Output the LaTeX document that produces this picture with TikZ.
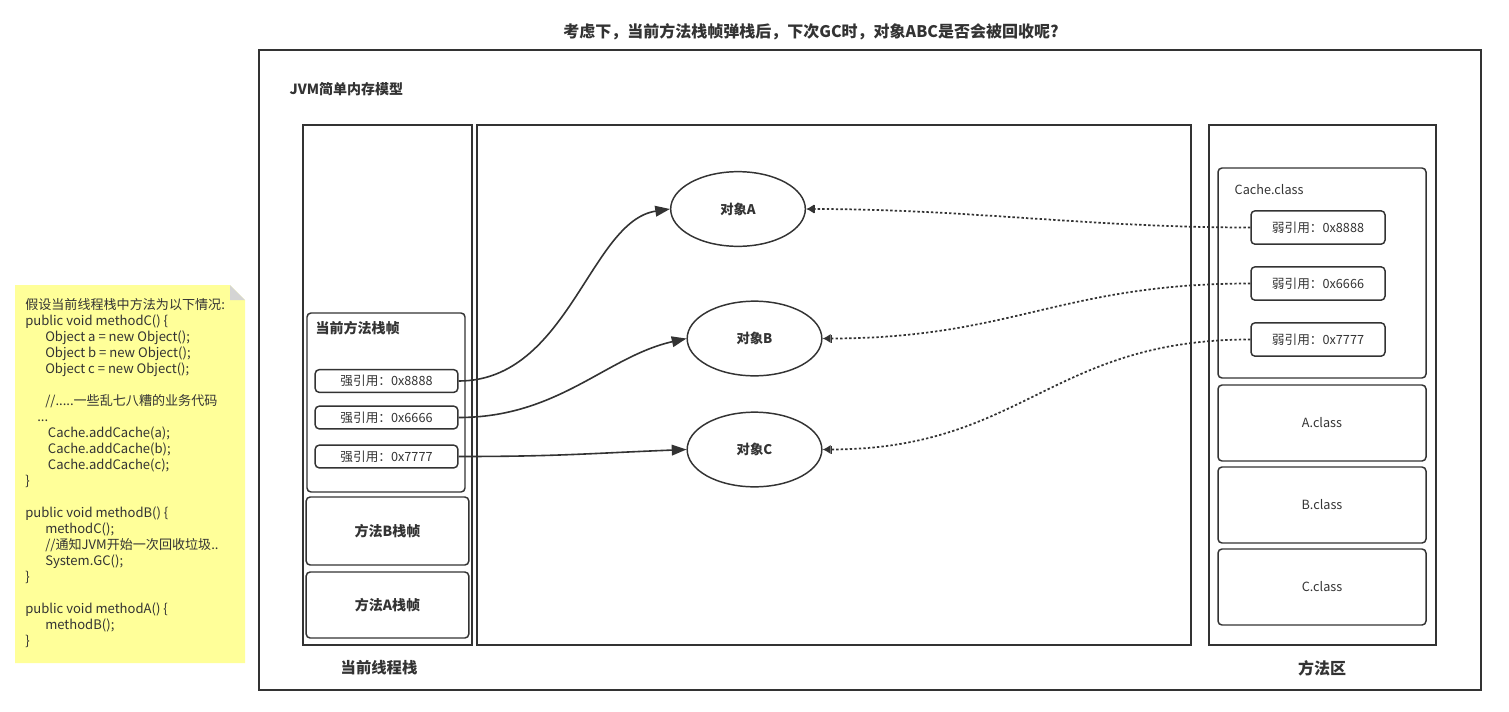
\documentclass[tikz,border=0pt]{standalone}
\usepackage{fontspec}
\setmainfont{Noto Sans CJK SC}
\usetikzlibrary{arrows.meta,shapes.geometric}
\definecolor{ink}{HTML}{333333}
\definecolor{notefill}{HTML}{FFFF99}
\definecolor{foldgray}{HTML}{D4D4D4}

\begin{document}
\begin{tikzpicture}[
  x=0.75pt,y=-0.75pt,
  every node/.style={text=ink},
  area/.style={draw=ink,line width=1.3pt},
  roundbox/.style={draw=ink,line width=1.1pt,rounded corners=3pt},
  refbox/.style={roundbox,minimum width=107pt,minimum height=17pt,inner sep=0pt,font=\fontsize{9.5}{11}\selectfont},
  weakbox/.style={roundbox,minimum width=100.5pt,minimum height=25pt,inner sep=0pt,font=\fontsize{9.5}{11}\selectfont},
  classbox/.style={roundbox,minimum width=156pt,minimum height=57pt,inner sep=0pt,font=\fontsize{9.5}{11}\selectfont},
  stackframe/.style={roundbox,minimum width=122pt,minimum height=#1,inner sep=0pt,font=\bfseries\fontsize{10.5}{12}\selectfont},
  obj/.style={ellipse,draw=ink,line width=1.1pt,minimum width=101pt,minimum height=56pt,inner sep=0pt,font=\bfseries\fontsize{10}{12}\selectfont},
  strong/.style={draw=ink,line width=1.2pt,-{Triangle[length=11pt,width=8pt]}},
  weak/.style={draw=ink,line width=1.3pt,dash pattern=on 1.8pt off 1.6pt,-{Bar[width=6pt,line width=1pt]Latex[length=6pt,width=7pt]}},
]
  \useasboundingbox (0,0) rectangle (1509,711);

  % title and outer model
  \node[font=\bfseries\fontsize{12}{14}\selectfont] (title) at (811,32) {考虑下，当前方法栈帧弹栈后，下次GC时，对象ABC是否会被回收呢?};
  \draw[area] (259,50) rectangle (1481,690);
  \node[anchor=west,font=\bfseries\fontsize{10.5}{12}\selectfont] (jvm) at (285,89) {JVM简单内存模型};

  % code note
  \fill[notefill] (15,285) -- (230,285) -- (245,300) -- (245,663) -- (15,663) -- cycle;
  \fill[foldgray] (230,285) -- (245,300) -- (230,300) -- cycle;
  \node[anchor=north west,align=left,inner sep=0pt,font=\fontsize{9.8}{12}\selectfont] (code) at (25,298) {%
    假设当前线程栈中方法为以下情况:\\
    public void methodC() \{\\
    \hspace*{15pt}Object a = new Object();\\
    \hspace*{15pt}Object b = new Object();\\
    \hspace*{15pt}Object c = new Object();\\[12pt]
    \hspace*{15pt}//.....一些乱七八糟的业务代码\\
    \hspace*{9pt}...\\
    \hspace*{17pt}Cache.addCache(a);\\
    \hspace*{17pt}Cache.addCache(b);\\
    \hspace*{17pt}Cache.addCache(c);\\
    \}\\[12pt]
    public void methodB() \{\\
    \hspace*{15pt}methodC();\\
    \hspace*{15pt}//通知JVM开始一次回收垃圾..\\
    \hspace*{15pt}System.GC();\\
    \}\\[12pt]
    public void methodA() \{\\
    \hspace*{15pt}methodB();\\
    \}};

  % thread stack
  \draw[area] (303,125) rectangle (472,645);
  \draw[roundbox] (307,313) rectangle (465,492);
  \node[anchor=west,font=\bfseries\fontsize{10.5}{12}\selectfont] (cur) at (311,328) {当前方法栈帧};
  \node[refbox] (ref1) at (386.5,381) {强引用：0x8888};
  \node[refbox] (ref2) at (386.5,417.5) {强引用：0x6666};
  \node[refbox] (ref3) at (386.5,456.5) {强引用：0x7777};
  \node[stackframe=51pt] (frameB) at (387.5,531) {方法B栈帧};
  \node[stackframe=49.5pt] (frameA) at (387.5,605) {方法A栈帧};
  \node[font=\bfseries\fontsize{11.5}{13}\selectfont] (stacklbl) at (379,668) {当前线程栈};

  % heap
  \draw[area] (477,125) rectangle (1191,645);
  \node[obj] (objA) at (738,209) {对象A};
  \node[obj] (objB) at (754.5,338.5) {对象B};
  \node[obj] (objC) at (754.5,449.5) {对象C};

  % method area
  \draw[area] (1209,125) rectangle (1436,645);
  \draw[roundbox] (1218,168) rectangle (1426,378);
  \node[anchor=west,font=\fontsize{9.5}{11}\selectfont] (cache) at (1230,190) {Cache.class};
  \node[weakbox] (weak1) at (1318,227.5) {弱引用：0x8888};
  \node[weakbox] (weak2) at (1318,283.5) {弱引用：0x6666};
  \node[weakbox] (weak3) at (1318,339.5) {弱引用：0x7777};
  \node[classbox] (clsA) at (1322,423) {A.class};
  \node[classbox] (clsB) at (1322,505) {B.class};
  \node[classbox] (clsC) at (1322,587) {C.class};
  \node[font=\bfseries\fontsize{12}{14}\selectfont] (malbl) at (1322,668) {方法区};

  % references
  \draw[strong] (ref1.east) .. controls +(110,0) and +(-80,12) .. (objA.west);
  \draw[strong] (ref2.east) .. controls +(100,0) and +(-80,18) .. (objB.west);
  \draw[strong] (ref3.east) .. controls +(100,0) and +(-100,4) .. (objC.west);
  \draw[weak] (weak1.west) .. controls +(-160,0) and +(160,0) .. (objA.east);
  \draw[weak] (weak2.west) .. controls +(-190,0) and +(190,0) .. (objB.east);
  \draw[weak] (weak3.west) .. controls +(-200,0) and +(200,0) .. (objC.east);
\end{tikzpicture}
\end{document}
